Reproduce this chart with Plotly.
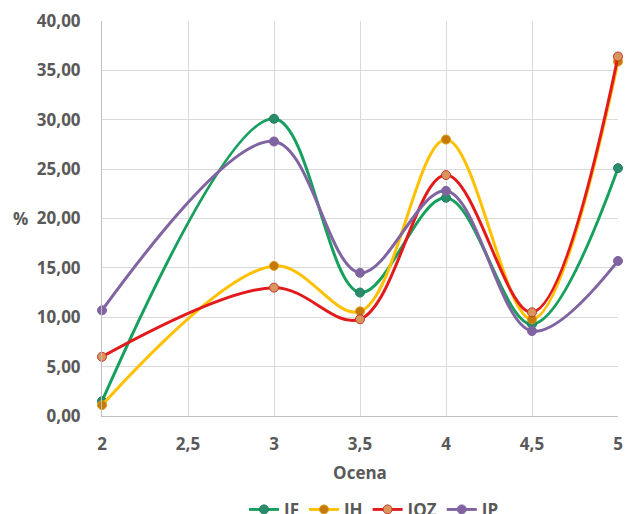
import plotly.graph_objects as go

ocena = [2, 3, 3.5, 4, 4.5, 5]
series_names = ["IF", "IH", "IOZ", "IP"]
IF = [1.5, 30.1, 12.5, 22.1, 9.3, 25.1]
IH = [1.1, 15.2, 10.6, 28.0, 9.8, 35.9]
IOZ = [6.0, 13.0, 9.8, 24.4, 10.5, 36.4]
IP = [10.7, 27.8, 14.5, 22.8, 8.6, 15.7]

x_tickvals = [2, 2.5, 3, 3.5, 4, 4.5, 5]
x_ticktext = ["2", "2,5", "3", "3,5", "4", "4,5", "5"]
y_tickvals = [0, 5, 10, 15, 20, 25, 30, 35, 40]
y_ticktext = ["0,00", "5,00", "10,00", "15,00", "20,00", "25,00", "30,00", "35,00", "40,00"]

line_colors = ["#17A05D", "#FFC000", "#E31A1C", "#8064A2"]
marker_colors = ["#2B8C6B", "#C6780A", "#D9955B", "#8064A2"]
marker_lines = ["#1F7F5A", "#D9A010", "#C0392B", "#8064A2"]

fig = go.Figure()
for name, vals, lc, mc, ml in zip(series_names, [IF, IH, IOZ, IP], line_colors, marker_colors, marker_lines):
    fig.add_trace(go.Scatter(
        x=ocena, y=vals, name=name, mode="lines+markers", cliponaxis=False,
        line=dict(color=lc, width=3, shape="spline", smoothing=1.0),
        marker=dict(color=mc, size=9, line=dict(color=ml, width=1)),
    ))

# page has an 8px body margin, so the figure is drawn offset by (8, 8)
font_family = "Open Sans"
grey = "#595959"
fs = 17
W, H = 624, 506
L, R, T, B = 94, 14, 13, 98
pw, ph = W - L - R, H - T - B
fig.update_layout(
    width=W, height=H,
    margin=dict(l=L, r=R, t=T, b=B, autoexpand=False),
    paper_bgcolor="white", plot_bgcolor="white",
    font=dict(family=font_family, size=fs, color=grey, weight="bold"),
    showlegend=True,
    legend=dict(orientation="h", x=(366 - L) / pw, xanchor="center", y=-0.192, yanchor="top",
                font=dict(size=fs, color=grey, weight="bold"), itemwidth=30),
    xaxis=dict(range=[2, 5], tickvals=x_tickvals, ticktext=x_ticktext,
               showgrid=True, gridcolor="#D9D9D9", gridwidth=1,
               showline=True, linecolor="#BFBFBF", linewidth=1,
               zeroline=False, ticks="", ticklabelstandoff=13, automargin=False,
               title=dict(text="Ocena", font=dict(size=fs, color=grey, weight="bold"), standoff=12)),
    yaxis=dict(range=[0, 40], tickvals=y_tickvals, ticktext=y_ticktext,
               showgrid=True, gridcolor="#D9D9D9", gridwidth=1,
               showline=True, linecolor="#BFBFBF", linewidth=1,
               zeroline=False, ticks="", ticklabelstandoff=17, automargin=False),
    annotations=[dict(text="%", x=(12 - L) / pw, y=(H - B - 210) / ph,
                      xref="paper", yref="paper", showarrow=False,
                      xanchor="center", yanchor="middle",
                      font=dict(size=fs, color=grey, weight="bold"))],
)

fig.write_html("out.html")
